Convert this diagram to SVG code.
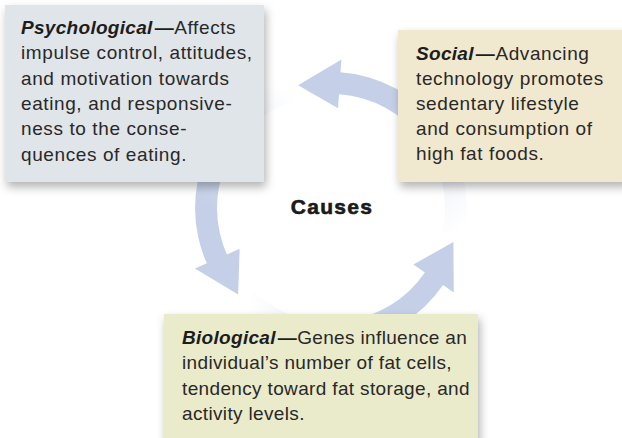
<svg xmlns="http://www.w3.org/2000/svg" width="622" height="438" viewBox="0 0 622 438">
  <style>
    .body { font-family: "Liberation Sans", Arial, sans-serif; font-size: 19px; letter-spacing: 0.6px; fill: #2a2828; }
    .lbl { font-weight: bold; font-style: italic; letter-spacing: 0.3px; fill: #1e1c1c; }
    .dash { font-weight: bold; fill: #1e1c1c; }
    .title { font-family: "Liberation Sans", Arial, sans-serif; font-size: 21px; font-weight: bold; letter-spacing: 1.3px; fill: #1a1a1a; stroke: #1a1a1a; stroke-width: 0.6px; }
    .box { filter: url(#shadow); }
  </style>
  <defs>
    <filter id="shadow" x="-10%" y="-10%" width="125%" height="130%">
      <feDropShadow dx="2" dy="5" stdDeviation="5" flood-color="#000" flood-opacity="0.3"/>
    </filter>
    <linearGradient id="g1" gradientUnits="userSpaceOnUse" x1="453.3" y1="234.0" x2="339.7" y2="83.3">
      <stop offset="0" stop-color="#c5d0e8" stop-opacity="0"/>
      <stop offset="0.3" stop-color="#c5d0e8" stop-opacity="0.25"/>
      <stop offset="0.6" stop-color="#c5d0e8" stop-opacity="0.85"/>
      <stop offset="0.75" stop-color="#c5d0e8" stop-opacity="1"/>
    </linearGradient>
    <linearGradient id="g2" gradientUnits="userSpaceOnUse" x1="288.25" y1="90.5" x2="216.8" y2="258.8">
      <stop offset="0" stop-color="#c5d0e8" stop-opacity="0"/>
      <stop offset="0.3" stop-color="#c5d0e8" stop-opacity="0.25"/>
      <stop offset="0.6" stop-color="#c5d0e8" stop-opacity="0.85"/>
      <stop offset="0.75" stop-color="#c5d0e8" stop-opacity="1"/>
    </linearGradient>
    <linearGradient id="g3" gradientUnits="userSpaceOnUse" x1="247.4" y1="300.9" x2="434.0" y2="278.8">
      <stop offset="0" stop-color="#c5d0e8" stop-opacity="0"/>
      <stop offset="0.3" stop-color="#c5d0e8" stop-opacity="0.25"/>
      <stop offset="0.6" stop-color="#c5d0e8" stop-opacity="0.85"/>
      <stop offset="0.75" stop-color="#c5d0e8" stop-opacity="1"/>
    </linearGradient>
  </defs>
  <rect width="622" height="438" fill="#ffffff"/>

  <g id="connectors">
    <path id="arrow-social-psych" fill="url(#g1)" d="M 464.0 236.3 A 136 136 0 0 0 340.5 72.3 L 341.4 59.4 L 298.1 85.3 L 338.0 108.2 L 339.0 94.3 A 114 114 0 0 1 442.5 231.7 Z"/>
    <path id="arrow-psych-bio" fill="url(#g2)" d="M 284.5 80.2 A 136 136 0 0 0 206.8 263.3 L 194.9 268.6 L 238.1 294.6 L 239.65 248.7 L 226.9 254.4 A 114 114 0 0 1 292.0 100.9 Z"/>
    <path id="arrow-bio-social" fill="url(#g3)" d="M 240.0 309.1 A 136 136 0 0 0 443.1 285.0 L 453.8 292.4 L 453.4 241.9 L 413.4 264.6 L 424.9 272.6 A 114 114 0 0 1 254.7 292.7 Z"/>
  </g>

  <g id="center">
    <text class="title" x="332" y="214" text-anchor="middle">Causes</text>
  </g>

  <g id="psychological">
    <rect class="box" x="5" y="5" width="259" height="177" fill="#dfe5e9"/>
    <text class="body">
      <tspan x="21" y="34"><tspan class="lbl">Psychological</tspan><tspan class="dash" dx="2">—</tspan>Affects</tspan>
      <tspan x="21" y="59.3">impulse control, attitudes,</tspan>
      <tspan x="21" y="84.6">and motivation towards</tspan>
      <tspan x="21" y="109.9">eating, and responsive-</tspan>
      <tspan x="21" y="135.2">ness to the conse-</tspan>
      <tspan x="21" y="160.5">quences of eating.</tspan>
    </text>
  </g>

  <g id="social">
    <rect class="box" x="398" y="30" width="230" height="152" fill="#f0e9cf"/>
    <text class="body">
      <tspan x="416" y="60"><tspan class="lbl">Social</tspan><tspan class="dash" dx="2">—</tspan>Advancing</tspan>
      <tspan x="416" y="85">technology promotes</tspan>
      <tspan x="416" y="110">sedentary lifestyle</tspan>
      <tspan x="416" y="135">and consumption of</tspan>
      <tspan x="416" y="160">high fat foods.</tspan>
    </text>
  </g>

  <g id="biological">
    <rect class="box" x="164" y="314" width="314" height="130" fill="#e9ebcb"/>
    <text class="body" style="letter-spacing:0.35px">
      <tspan x="182" y="343.5"><tspan class="lbl">Biological</tspan><tspan class="dash" dx="2">—</tspan>Genes influence an</tspan>
      <tspan x="182" y="369">individual’s number of fat cells,</tspan>
      <tspan x="182" y="394.5">tendency toward fat storage, and</tspan>
      <tspan x="182" y="420">activity levels.</tspan>
    </text>
  </g>
</svg>
